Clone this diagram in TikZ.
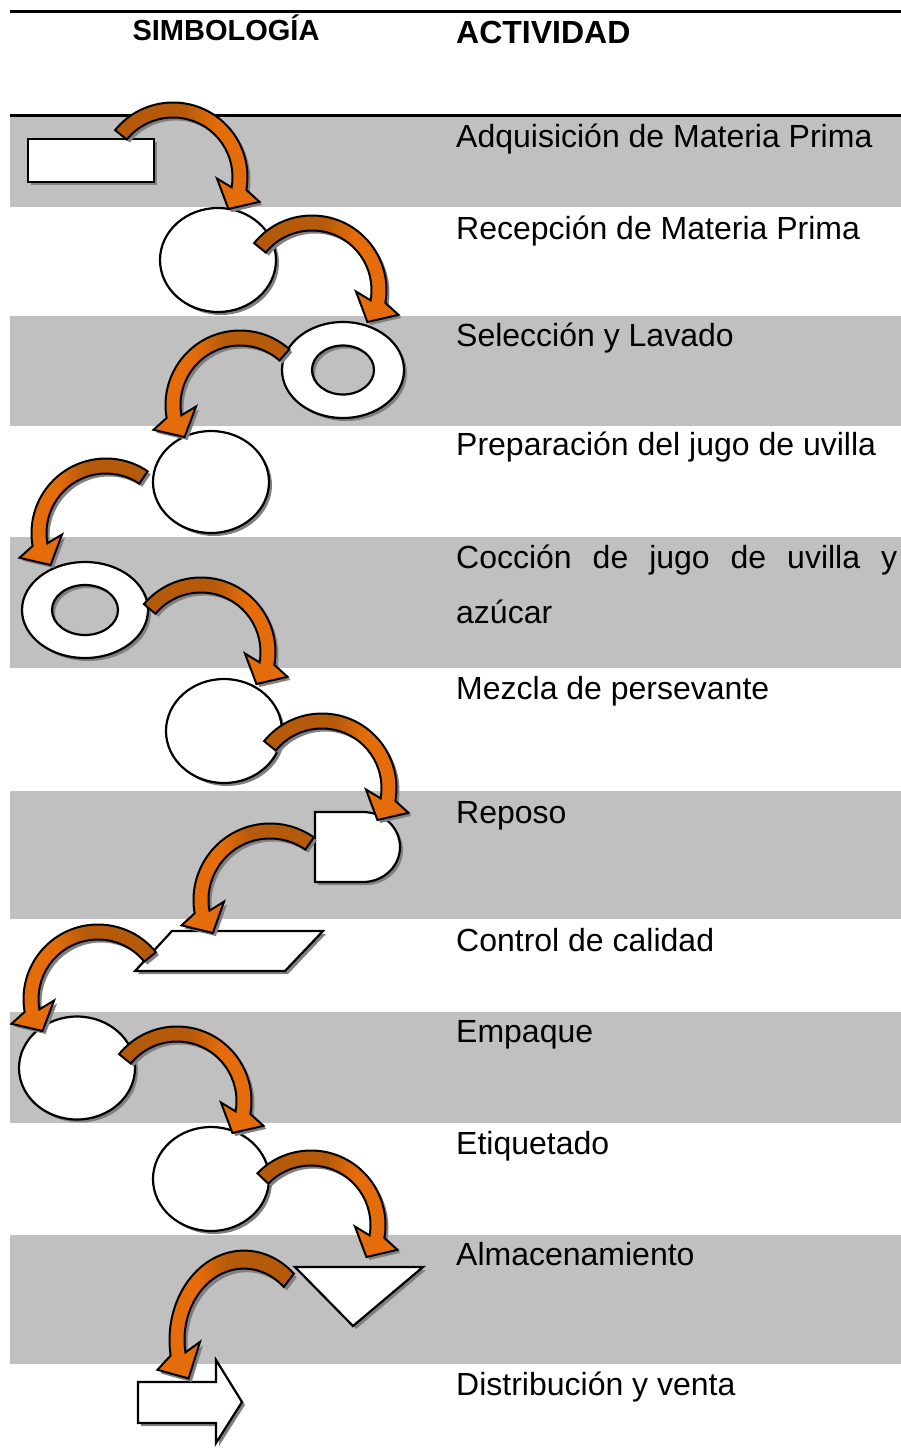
\documentclass[tikz,border=0pt]{standalone}
\usepackage{fontspec}
\setmainfont{Liberation Sans}
\definecolor{bandgray}{HTML}{C0C0C0}
\definecolor{shadowgray}{HTML}{808080}
\definecolor{arrdark}{HTML}{B45A0A}
\definecolor{arrorange}{HTML}{E46C0A}
\pgfdeclarehorizontalshading{arrshade}{100bp}{color(0bp)=(arrdark); color(49bp)=(arrdark); color(60bp)=(arrorange); color(100bp)=(arrorange)}
\tikzset{
  shp/.style={draw=black, line width=2.2pt, fill=white, line join=miter},
  shd/.style={fill=shadowgray},
  band/.style={fill=bandgray},
  rulel/.style={draw=black, line width=3pt},
  lbl/.style={anchor=base west, inner sep=0pt, font=\fontsize{32}{38}\selectfont},
  hdr/.style={anchor=base, inner sep=0pt, font=\bfseries\fontsize{29}{34}\selectfont},
  arr/.style={draw=black, line width=2pt, line join=miter, shading=arrshade},
}
\newcommand{\withshadow}[1]{\fill[shd,shift={(3,3)}] #1; \draw[shp] #1;}
% cx cy r yscale a1 a2 s shadingangle
\newcommand{\curvarrow}[8]{%
  \begin{scope}[shift={(#1,#2)}, yscale=#4]
    \pgfmathsetmacro\cRo{#3+7.5}\pgfmathsetmacro\cRi{#3-7.5}
    \pgfmathsetmacro\cRb{#3+23}\pgfmathsetmacro\cRc{#3-23}
    \pgfmathsetmacro\cRt{#3-3}
    \pgfmathsetmacro\cAob{#6+6*#7}
    \pgfmathsetmacro\cAtp{#6+20*#7}
    \pgfmathsetmacro\cAib{#6-8*#7}
    \def\cPath{(#5:\cRo) arc[start angle=#5, end angle=#6, radius=\cRo] -- (\cAob:\cRb) -- (\cAtp:\cRt) -- (\cAib:\cRc) -- (#6:\cRi) arc[start angle=#6, end angle=#5, radius=\cRi] -- cycle}
    \fill[shd, shift={(3,3)}] \cPath;
    \shadedraw[arr, shading angle=#8] \cPath;
  \end{scope}}
\begin{document}
\begin{tikzpicture}[x=1pt, y=-1pt]
\useasboundingbox (0,0) rectangle (901,1452);
% bands
\fill[band] (10,117) rectangle (901,207);
\fill[band] (10,316) rectangle (901,426);
\fill[band] (10,537) rectangle (901,668);
\fill[band] (10,791) rectangle (901,919);
\fill[band] (10,1012) rectangle (901,1123);
\fill[band] (10,1235) rectangle (901,1364);
\draw[rulel] (10,11.5) -- (901,11.5);
\draw[rulel] (10,115) -- (901,115);
% headers
\node[hdr] (hsim) at (226,40) {SIMBOLOGÍA};
\node[lbl, font=\bfseries\fontsize{32}{38}\selectfont] (hact) at (456,43.5) {ACTIVIDAD};
% labels
\node[lbl] (t1) at (456,147.5) {Adquisición de Materia Prima};
\node[lbl] (t2) at (456,239.5) {Recepción de Materia Prima};
\node[lbl] (t3) at (456,346.5) {Selección y Lavado};
\node[lbl] (t4) at (456,455.5) {Preparación del jugo de uvilla};
\node[lbl] (t5) at (456,568.5) {\makebox[441pt][s]{Cocción de jugo de uvilla y}};
\node[lbl] (t5b) at (456,623.5) {azúcar};
\node[lbl] (t6) at (456,699.5) {Mezcla de persevante};
\node[lbl] (t7) at (456,823.5) {Reposo};
\node[lbl] (t8) at (456,951.5) {Control de calidad};
\node[lbl] (t9) at (456,1042.5) {Empaque};
\node[lbl] (t10) at (456,1154.5) {Etiquetado};
\node[lbl] (t11) at (456,1265.5) {Almacenamiento};
\node[lbl] (t12) at (456,1395.5) {Distribución y venta};
% shapes
\withshadow{(28,139) rectangle (154,182)}
\withshadow{(218,260) ellipse [x radius=58, y radius=52]}
\fill[shd, even odd rule, shift={(3,3)}] (343,370) ellipse [x radius=61, y radius=48] (343,370) ellipse [x radius=31, y radius=24.5];
\draw[shp, even odd rule] (343,370) ellipse [x radius=61, y radius=48] (343,370) ellipse [x radius=31, y radius=24.5];
\withshadow{(211,482) ellipse [x radius=58, y radius=51]}
\fill[shd, even odd rule, shift={(3,3)}] (85,610) ellipse [x radius=63, y radius=48] (85,610) ellipse [x radius=33, y radius=25];
\draw[shp, even odd rule] (85,610) ellipse [x radius=63, y radius=48] (85,610) ellipse [x radius=33, y radius=25];
\withshadow{(224,731) ellipse [x radius=58, y radius=52]}
\withshadow{(315,812) -- (363,812) arc[start angle=-90, end angle=90, x radius=37, y radius=35] -- (315,882) -- cycle}
\withshadow{(172,931) -- (323,931) -- (285,971) -- (135,971) -- cycle}
\withshadow{(77,1068) ellipse [x radius=58, y radius=51.5]}
\withshadow{(211,1179) ellipse [x radius=58, y radius=52]}
\withshadow{(295,1267) -- (423,1267) -- (353,1326) -- cycle}
\withshadow{(138,1382) -- (216,1382) -- (216,1360) -- (242,1402) -- (216,1443) -- (216,1423) -- (138,1423) -- cycle}
% curved arrows
\curvarrow{173}{177}{67}{1}{-141}{10}{1}{0}
\curvarrow{312}{290}{67}{1}{-141}{10}{1}{0}
\curvarrow{240}{405}{67}{1}{-48.5}{-190}{-1}{180}
\curvarrow{106}{533}{67}{1}{-56}{-190}{-1}{180}
\curvarrow{201}{652}{67}{1}{-140}{10}{1}{0}
\curvarrow{322}{788}{67}{1}{-141}{10}{1}{0}
\curvarrow{270}{900}{69}{1}{-55}{-190}{-1}{180}
\curvarrow{98}{999}{67}{1}{-39}{-190}{-1}{180}
\curvarrow{177}{1101}{67}{1}{-141}{10}{1}{0}
\curvarrow{311}{1225}{67}{1}{-136}{10}{1}{0}
\curvarrow{244}{1340}{67}{1.2}{-48}{-190}{-1}{180}
\end{tikzpicture}
\end{document}
